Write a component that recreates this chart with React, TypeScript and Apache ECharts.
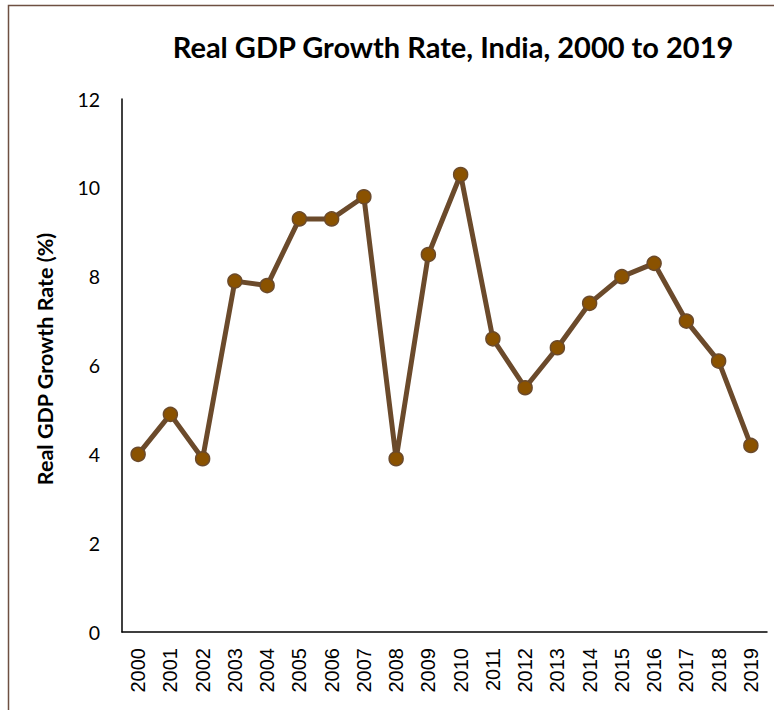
import React, { useEffect, useRef } from "react";
import * as echarts from "echarts";

const years = ["2000","2001","2002","2003","2004","2005","2006","2007","2008","2009","2010","2011","2012","2013","2014","2015","2016","2017","2018","2019"];
const growth = [4.0, 4.9, 3.9, 7.9, 7.8, 9.3, 9.3, 9.8, 3.9, 8.5, 10.3, 6.6, 5.5, 6.4, 7.4, 8.0, 8.3, 7.0, 6.1, 4.2];
const titleText = "Real GDP Growth Rate, India, 2000 to 2019";
const yAxisTitle = "Real GDP Growth Rate (%)";

export default function App() {
  const ref = useRef<HTMLDivElement>(null);
  useEffect(() => {
    const chart = echarts.init(ref.current!, null, { renderer: "svg" });
    chart.setOption({
      animation: false,
      backgroundColor: "#ffffff",
      title: {
        text: titleText,
        left: 448,
        top: 27,
        textAlign: "center",
        textStyle: { fontFamily: "Lato", fontWeight: "bold", fontSize: 29, color: "#000" },
      },
      graphic: [
        {
          type: "rect",
          shape: { x: 8.5, y: 5.5, width: 900, height: 900 },
          style: { fill: "none", stroke: "#6e5042", lineWidth: 1.5 },
          silent: true,
        },
        {
          type: "text",
          x: 45,
          y: 359,
          rotation: Math.PI / 2,
          style: {
            text: yAxisTitle,
            fontFamily: "Lato",
            fontWeight: "bold",
            fontSize: 21.5,
            fill: "#000",
            align: "center",
            verticalAlign: "middle",
          },
        },
      ],
      grid: { left: 122, top: 99, right: 7, bottom: 78 },
      xAxis: {
        type: "category",
        data: years,
        boundaryGap: true,
        axisLine: { lineStyle: { color: "#000", width: 1.5 } },
        axisTick: { show: false },
        axisLabel: { rotate: 90, margin: 16, fontFamily: "Liberation Sans", fontSize: 20, color: "#000", interval: 0 },
      },
      yAxis: {
        type: "value",
        min: 0,
        max: 12,
        interval: 2,
        splitLine: { show: false },
        axisLine: { show: true, lineStyle: { color: "#000", width: 1.5 } },
        axisTick: { show: false },
        axisLabel: { margin: 22, fontFamily: "Lato", fontSize: 19.5, color: "#000" },
      },
      series: [
        {
          type: "line",
          data: growth,
          symbol: "circle",
          symbolSize: 14,
          lineStyle: { color: "#6b4a2b", width: 5 },
          itemStyle: { color: "#8a5200", borderColor: "#6b4a2b", borderWidth: 1.5 },
        },
      ],
    });
    return () => chart.dispose();
  }, []);
  return <div ref={ref} style={{ position: "absolute", left: 0, top: 0, width: 774, height: 710 }} />;
}
